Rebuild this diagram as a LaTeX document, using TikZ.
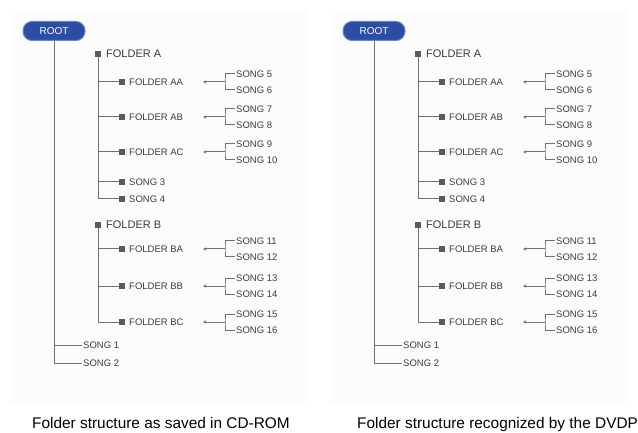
\documentclass[tikz,border=0pt]{standalone}
\usepackage{fontspec}
\setmainfont{Liberation Sans}
\usetikzlibrary{arrows.meta, positioning}
\definecolor{RootBlue}{HTML}{2C4DA6}
\definecolor{RootEdge}{HTML}{6A86CC}
\definecolor{LineGray}{HTML}{707070}
\definecolor{BoxGray}{HTML}{5A5A5A}
\definecolor{TextGray}{HTML}{3C3C3C}
\definecolor{PanelGray}{HTML}{FCFCFC}

\begin{document}
\begin{tikzpicture}[x=1pt, y=-1pt,
    line/.style={LineGray, line width=1pt},
    rootpill/.style={rectangle, rounded corners=9pt, minimum width=62pt, minimum height=19pt,
        fill=RootBlue, draw=RootEdge, line width=1pt, text=white, font=\fontsize{10}{10}\selectfont},
    fbox/.style={rectangle, fill=BoxGray, minimum size=6.5pt, inner sep=0pt},
    flabel/.style={anchor=west, inner sep=1pt, text=TextGray, font=\fontsize{9.5}{9.5}\selectfont},
    toplabel/.style={anchor=west, inner sep=1pt, text=TextGray, font=\fontsize{11}{11}\selectfont},
    caption/.style={inner sep=0pt, font=\fontsize{15.4}{15.4}\selectfont}]
    \useasboundingbox (0,0) rectangle (638,433);

    % Two identical trees, left and right
    \foreach \side/\dx in {L/0, R/320} {
    \begin{scope}[xshift=\dx pt, name prefix=\side-]
        % Panel background
        \fill[PanelGray] (10,10) rectangle (308,403);

        % Root and its songs
        \node[rootpill] (root) at (54,31) {ROOT};
        \node[flabel] (s1) at (82,345) {SONG 1};
        \node[flabel] (s2) at (82,363) {SONG 2};
        \draw[line] (root) |- (s1.west);
        \draw[line] (root) |- (s2.west);

        % Folder A
        \node[fbox] (fa) at (98,54) {};
        \node[toplabel] (fa-t) at (105,54) {FOLDER A};
        \foreach \n/\y/\t in {aa/82/FOLDER AA, ab/117/FOLDER AB, ac/152/FOLDER AC,
                              s3/182/SONG 3, s4/199/SONG 4} {
            \node[fbox] (\n) at (122,\y) {};
            \node[flabel] (\n-t) at (128,\y) {\t};
            \draw[line] (fa) |- (\n);
        }

        % Folder B
        \node[fbox] (fb) at (98,225) {};
        \node[toplabel] (fb-t) at (105,225) {FOLDER B};
        \foreach \n/\y/\t in {ba/249/FOLDER BA, bb/286/FOLDER BB, bc/322/FOLDER BC} {
            \node[fbox] (\n) at (122,\y) {};
            \node[flabel] (\n-t) at (128,\y) {\t};
            \draw[line] (fb) |- (\n);
        }

        % Songs in the sub folders
        \foreach \n/\y/\a/\b in {aa/82/5/6, ab/117/7/8, ac/152/9/10,
                                 ba/249/11/12, bb/286/13/14, bc/322/15/16} {
            \coordinate (\n-br) at (225,\y);
            \coordinate (\n-tip) at (203,\y);
            \node[flabel] (song\a) at (235,\y-8) {SONG \a};
            \node[flabel] (song\b) at (235,\y+8) {SONG \b};
            \draw[line, -{Latex[length=3pt, width=3.5pt]}] (\n-br) -- (\n-tip);
            \draw[line] (song\a.west) -| (\n-br) |- (song\b.west);
        }
    \end{scope}
    }

    % Captions
    \node[caption, anchor=base] (capL) at (161,428) {Folder structure as saved in CD-ROM};
    \node[caption, anchor=base west] (capR) at (357,428) {Folder structure recognized by the DVDP};
\end{tikzpicture}
\end{document}
